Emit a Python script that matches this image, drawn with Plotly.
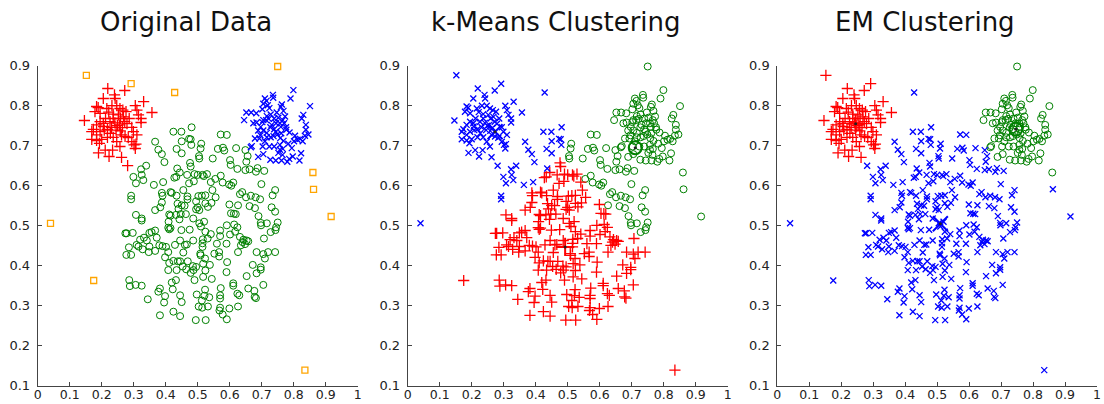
import plotly.graph_objects as go

# ---- data (x, y pairs) ----
# left ear: original red, k-means blue, EM red
ear_left = [
    (0.219, 0.843), (0.240, 0.827), (0.242, 0.818), (0.272, 0.838), (0.331, 0.810),
    (0.205, 0.818), (0.184, 0.798), (0.189, 0.795), (0.179, 0.785), (0.195, 0.781),
    (0.216, 0.793), (0.232, 0.800), (0.247, 0.800), (0.257, 0.793), (0.266, 0.789),
    (0.276, 0.785), (0.305, 0.800), (0.310, 0.789), (0.315, 0.777), (0.323, 0.768),
    (0.323, 0.758), (0.357, 0.783), (0.286, 0.768), (0.272, 0.760), (0.259, 0.768),
    (0.252, 0.777), (0.236, 0.768), (0.226, 0.760), (0.212, 0.768), (0.205, 0.756),
    (0.195, 0.760), (0.184, 0.752), (0.174, 0.741), (0.169, 0.735), (0.184, 0.727),
    (0.195, 0.735), (0.208, 0.739), (0.218, 0.741), (0.231, 0.746), (0.245, 0.739),
    (0.255, 0.752), (0.262, 0.727), (0.273, 0.723), (0.283, 0.720), (0.294, 0.746),
    (0.299, 0.735), (0.310, 0.727), (0.301, 0.702), (0.305, 0.693), (0.307, 0.704),
    (0.294, 0.710), (0.247, 0.710), (0.236, 0.721), (0.218, 0.721), (0.200, 0.716),
    (0.184, 0.713), (0.169, 0.716), (0.193, 0.706), (0.211, 0.689), (0.190, 0.682),
    (0.223, 0.673), (0.234, 0.689), (0.257, 0.698), (0.262, 0.671), (0.146, 0.763),
    (0.241, 0.757), (0.249, 0.750), (0.227, 0.731), (0.265, 0.745), (0.279, 0.755),
    (0.206, 0.748), (0.258, 0.737), (0.236, 0.779), (0.268, 0.772), (0.222, 0.784),
]
# left-ear point that EM puts in the head cluster
ear_left_em_head = [(0.281, 0.650)]

# right ear: original blue, k-means green, EM green
ear_right = [
    (0.710, 0.818), (0.715, 0.812), (0.735, 0.827), (0.736, 0.820), (0.799, 0.839),
    (0.790, 0.818), (0.763, 0.803), (0.760, 0.797), (0.851, 0.799), (0.719, 0.801),
    (0.705, 0.805), (0.652, 0.783), (0.667, 0.783), (0.683, 0.781), (0.702, 0.791),
    (0.716, 0.774), (0.705, 0.764), (0.714, 0.764), (0.722, 0.767), (0.728, 0.778),
    (0.739, 0.768), (0.747, 0.783), (0.768, 0.787), (0.773, 0.773), (0.766, 0.764),
    (0.770, 0.756), (0.757, 0.756), (0.760, 0.747), (0.745, 0.756), (0.776, 0.746),
    (0.777, 0.740), (0.724, 0.794), (0.645, 0.764), (0.674, 0.756), (0.684, 0.758),
    (0.697, 0.747), (0.689, 0.738), (0.705, 0.738), (0.716, 0.732), (0.727, 0.746),
    (0.739, 0.741), (0.749, 0.728), (0.737, 0.724), (0.728, 0.721), (0.716, 0.721),
    (0.710, 0.711), (0.693, 0.718), (0.679, 0.718), (0.669, 0.699), (0.666, 0.696),
    (0.703, 0.698), (0.724, 0.698), (0.739, 0.698), (0.757, 0.702), (0.768, 0.712),
    (0.766, 0.692), (0.757, 0.690), (0.752, 0.682), (0.765, 0.677), (0.744, 0.663),
    (0.762, 0.663), (0.780, 0.660), (0.786, 0.667), (0.797, 0.673), (0.794, 0.694),
    (0.783, 0.705), (0.801, 0.711), (0.812, 0.715), (0.804, 0.725), (0.820, 0.717),
    (0.828, 0.711), (0.835, 0.725), (0.846, 0.728), (0.838, 0.740), (0.838, 0.752),
    (0.830, 0.777), (0.825, 0.768), (0.823, 0.681), (0.818, 0.663), (0.689, 0.672),
    (0.705, 0.679), (0.727, 0.665), (0.696, 0.726), (0.787, 0.733), (0.752, 0.770),
    (0.744, 0.735), (0.758, 0.719), (0.731, 0.752), (0.702, 0.759), (0.761, 0.731),
]

# head points: original green, EM blue; split by k-means cluster
head_km_blue = [
    (0.367, 0.710), (0.377, 0.690), (0.388, 0.679), (0.396, 0.659), (0.424, 0.735),
    (0.449, 0.735), (0.473, 0.717), (0.478, 0.716), (0.481, 0.746), (0.434, 0.692),
    (0.450, 0.711), (0.450, 0.681), (0.480, 0.702), (0.339, 0.650), (0.323, 0.641),
    (0.325, 0.627), (0.299, 0.622), (0.330, 0.614), (0.307, 0.606), (0.363, 0.602),
    (0.392, 0.609), (0.292, 0.575), (0.292, 0.566), (0.436, 0.643),
]
head_km_green = [
    (0.511, 0.705), (0.504, 0.674), (0.505, 0.668), (0.509, 0.693), (0.547, 0.668),
    (0.563, 0.692), (0.579, 0.695), (0.583, 0.688), (0.572, 0.728), (0.591, 0.727),
    (0.620, 0.694), (0.649, 0.689), (0.656, 0.674), (0.652, 0.660), (0.601, 0.664),
    (0.603, 0.652), (0.624, 0.642), (0.649, 0.639), (0.662, 0.641), (0.682, 0.635),
    (0.708, 0.637), (0.687, 0.644), (0.555, 0.617), (0.572, 0.625), (0.578, 0.608),
    (0.598, 0.603), (0.605, 0.600), (0.611, 0.608), (0.699, 0.604), (0.632, 0.579),
    (0.639, 0.584), (0.651, 0.571), (0.666, 0.575), (0.681, 0.571), (0.695, 0.566),
    (0.662, 0.549), (0.679, 0.544), (0.742, 0.589), (0.734, 0.576), (0.626, 0.551),
    (0.690, 0.524), (0.697, 0.507), (0.698, 0.501), (0.716, 0.506), (0.742, 0.535),
    (0.750, 0.508), (0.745, 0.496), (0.743, 0.489), (0.728, 0.484), (0.731, 0.546),
]
head_km_red = [
    (0.478, 0.648), (0.476, 0.657), (0.444, 0.633), (0.427, 0.620), (0.433, 0.622),
    (0.467, 0.627), (0.490, 0.629), (0.500, 0.627), (0.515, 0.627), (0.519, 0.624),
    (0.529, 0.629), (0.473, 0.606), (0.488, 0.611), (0.541, 0.609), (0.546, 0.589),
    (0.388, 0.582), (0.390, 0.575), (0.415, 0.584), (0.419, 0.582), (0.455, 0.589),
    (0.434, 0.575), (0.468, 0.573), (0.468, 0.566), (0.495, 0.561), (0.502, 0.574),
    (0.513, 0.575), (0.524, 0.576), (0.524, 0.556), (0.532, 0.547), (0.543, 0.557),
    (0.556, 0.571), (0.599, 0.553), (0.604, 0.531), (0.613, 0.530), (0.619, 0.529),
    (0.388, 0.558), (0.383, 0.546), (0.367, 0.539), (0.437, 0.555), (0.440, 0.542),
    (0.450, 0.551), (0.459, 0.550), (0.463, 0.529), (0.495, 0.541), (0.505, 0.539),
    (0.500, 0.546), (0.432, 0.527), (0.411, 0.528), (0.409, 0.510), (0.408, 0.495),
    (0.411, 0.491), (0.443, 0.516), (0.449, 0.489), (0.486, 0.518), (0.505, 0.506),
    (0.510, 0.498), (0.520, 0.510), (0.524, 0.485), (0.541, 0.479), (0.531, 0.468),
    (0.515, 0.456), (0.516, 0.466), (0.486, 0.463), (0.460, 0.452), (0.445, 0.463),
    (0.429, 0.452), (0.570, 0.488), (0.591, 0.501), (0.570, 0.474), (0.614, 0.503),
    (0.624, 0.496), (0.617, 0.485), (0.601, 0.478), (0.632, 0.472), (0.640, 0.459),
    (0.643, 0.465), (0.648, 0.454), (0.653, 0.463), (0.658, 0.461), (0.635, 0.451),
    (0.626, 0.434), (0.707, 0.468), (0.684, 0.434), (0.705, 0.429), (0.710, 0.418),
    (0.720, 0.434), (0.742, 0.434), (0.672, 0.402), (0.684, 0.381), (0.697, 0.390),
    (0.697, 0.396), (0.653, 0.374), (0.611, 0.356), (0.611, 0.350), (0.705, 0.352),
    (0.624, 0.330), (0.630, 0.326), (0.658, 0.343), (0.677, 0.337), (0.678, 0.322),
    (0.682, 0.319), (0.626, 0.298), (0.599, 0.293), (0.591, 0.266), (0.578, 0.278),
    (0.568, 0.288), (0.570, 0.295), (0.570, 0.318), (0.570, 0.326), (0.572, 0.344),
    (0.592, 0.409), (0.590, 0.384), (0.567, 0.434), (0.567, 0.423), (0.544, 0.367),
    (0.538, 0.402), (0.523, 0.418), (0.509, 0.426), (0.517, 0.405), (0.524, 0.388),
    (0.517, 0.372), (0.495, 0.397), (0.487, 0.389), (0.485, 0.399), (0.478, 0.382),
    (0.490, 0.364), (0.497, 0.328), (0.513, 0.313), (0.523, 0.340), (0.521, 0.325),
    (0.536, 0.321), (0.503, 0.298), (0.514, 0.295), (0.532, 0.298), (0.494, 0.264),
    (0.525, 0.264), (0.469, 0.411), (0.464, 0.391), (0.453, 0.398), (0.438, 0.411),
    (0.434, 0.389), (0.445, 0.411), (0.424, 0.412), (0.411, 0.407), (0.408, 0.389),
    (0.398, 0.421), (0.408, 0.434), (0.401, 0.447), (0.390, 0.449), (0.380, 0.451),
    (0.367, 0.437), (0.347, 0.434), (0.349, 0.448), (0.341, 0.463), (0.349, 0.482),
    (0.356, 0.484), (0.372, 0.470), (0.332, 0.470), (0.320, 0.465), (0.315, 0.448),
    (0.328, 0.441), (0.309, 0.452), (0.285, 0.446), (0.274, 0.481), (0.278, 0.481),
    (0.297, 0.482), (0.277, 0.427), (0.292, 0.427), (0.286, 0.364), (0.288, 0.349),
    (0.306, 0.352), (0.325, 0.350), (0.344, 0.316), (0.382, 0.343), (0.377, 0.335),
    (0.398, 0.324), (0.395, 0.308), (0.382, 0.276), (0.424, 0.285), (0.445, 0.274),
    (0.445, 0.326), (0.450, 0.309), (0.432, 0.364), (0.419, 0.358), (0.422, 0.341),
    (0.307, 0.527), (0.325, 0.518), (0.325, 0.513), (0.367, 0.488), (0.415, 0.525),
    (0.447, 0.529), (0.415, 0.494), (0.515, 0.447), (0.508, 0.430), (0.455, 0.433),
    (0.466, 0.453), (0.552, 0.430), (0.560, 0.455), (0.475, 0.490), (0.590, 0.455),
]

# noise points (original orange squares), split by their k-means / EM labels
noise_km_blue_em_red = [(0.152, 0.876), (0.292, 0.855)]
noise_km_blue_em_blue = [(0.040, 0.506), (0.428, 0.833)]
noise_km_red_em_blue = [(0.175, 0.363), (0.835, 0.139)]
noise_km_green_em_green = [(0.750, 0.898), (0.860, 0.633)]
noise_km_green_em_blue = [(0.862, 0.591), (0.917, 0.523)]

# cluster centres
kmeans_centres = {"blue": (0.273, 0.735), "red": (0.492, 0.447), "green": (0.711, 0.695)}
em_centres = {"red": (0.245, 0.755), "blue": (0.510, 0.505), "green": (0.746, 0.741)}

x_ticks = [0, 0.1, 0.2, 0.3, 0.4, 0.5, 0.6, 0.7, 0.8, 0.9, 1]
x_tick_text = ["0", "0.1", "0.2", "0.3", "0.4", "0.5", "0.6", "0.7", "0.8", "0.9", "1"]
y_ticks = [0.1, 0.2, 0.3, 0.4, 0.5, 0.6, 0.7, 0.8, 0.9]
y_tick_text = ["0.1", "0.2", "0.3", "0.4", "0.5", "0.6", "0.7", "0.8", "0.9"]
titles = ["Original Data", "k-Means Clustering", "EM Clustering"]

# ---- styling ----
RED, BLUE, GREEN, ORANGE = "#ff0000", "#0000ff", "#008000", "#ffa500"
STYLE = {
    "red": dict(symbol="cross-thin-open", size=8, color=RED, line=dict(color=RED, width=1.3)),
    "blue": dict(symbol="x-thin-open", size=6, color=BLUE, line=dict(color=BLUE, width=1.3)),
    "green": dict(symbol="circle-open", size=7, color=GREEN, line=dict(color=GREEN, width=1)),
    "orange": dict(symbol="square-open", size=6, color=ORANGE, line=dict(color=ORANGE, width=1.3)),
}
CENTRE_SIZE = {"red": 13, "blue": 15, "green": 13}

groups = [
    # (points, original, kmeans, em)
    (ear_left, "red", "blue", "red"),
    (ear_left_em_head, "red", "blue", "blue"),
    (ear_right, "blue", "green", "green"),
    (head_km_blue, "green", "blue", "blue"),
    (head_km_green, "green", "green", "blue"),
    (head_km_red, "green", "red", "blue"),
    (noise_km_blue_em_red, "orange", "blue", "red"),
    (noise_km_blue_em_blue, "orange", "blue", "blue"),
    (noise_km_red_em_blue, "orange", "red", "blue"),
    (noise_km_green_em_green, "orange", "green", "green"),
    (noise_km_green_em_blue, "orange", "green", "blue"),
]

fig = go.Figure()
axis_names = [("x", "y"), ("x2", "y2"), ("x3", "y3")]

for panel in range(3):
    xa, ya = axis_names[panel]
    by_colour = {}
    for pts, *labs in groups:
        c = labs[panel]
        by_colour.setdefault(c, []).extend(pts)
    for c in ["green", "red", "blue", "orange"]:
        if c not in by_colour:
            continue
        pts = by_colour[c]
        fig.add_trace(go.Scatter(
            x=[p[0] for p in pts], y=[p[1] for p in pts], mode="markers",
            marker=STYLE[c], xaxis=xa, yaxis=ya, showlegend=False,
            cliponaxis=False, hoverinfo="x+y"))


def add_centres(centres, xa, ya):
    for c, (cx, cy) in centres.items():
        st = dict(STYLE[c])
        st["size"] = CENTRE_SIZE[c]
        st["line"] = dict(color=st["color"], width=2)
        fig.add_trace(go.Scatter(x=[cx], y=[cy], mode="markers", marker=st,
                                 xaxis=xa, yaxis=ya, showlegend=False))
        fig.add_trace(go.Scatter(x=[cx], y=[cy], mode="markers",
                                 marker=dict(symbol="circle", size=3, color="#222"),
                                 xaxis=xa, yaxis=ya, showlegend=False))


add_centres(kmeans_centres, "x2", "y2")
add_centres(em_centres, "x3", "y3")

W, H = 1104, 404
x_doms = [(37.7, 357.7), (407.7, 727.7), (777.3, 1097.0)]
y_dom = ((H - 385.7) / H, (H - 65.7) / H)

common = dict(showgrid=False, zeroline=False, showline=True, linecolor="#444",
              linewidth=1, ticks="inside", ticklen=4, tickcolor="#444", mirror=False,
              automargin=False,
              tickfont=dict(family="DejaVu Sans", size=13, color="#222"))

layout = dict(width=W, height=H, margin=dict(l=0, r=0, t=0, b=0, pad=0, autoexpand=False),
              paper_bgcolor="white", plot_bgcolor="white", annotations=[])
for i, (a, b) in enumerate(x_doms):
    suffix = "" if i == 0 else str(i + 1)
    layout["xaxis" + suffix] = dict(common, domain=[a / W, b / W], range=[0, 1],
                                    tickvals=x_ticks, ticktext=x_tick_text,
                                    anchor="y" + suffix, ticklabelstandoff=-3,
                                    tickfont=dict(family="DejaVu Sans", size=12.5, color="#222"))
    layout["yaxis" + suffix] = dict(common, domain=list(y_dom), range=[0.1, 0.9],
                                    tickvals=y_ticks, ticktext=y_tick_text,
                                    anchor="x" + suffix, ticklabelstandoff=4)
    layout["annotations"].append(dict(
        text=titles[i], x=((a + b) / 2 - 12) / W, y=(H - 22) / H, xref="paper", yref="paper",
        xanchor="center", yanchor="middle", showarrow=False,
        font=dict(family="DejaVu Sans", size=26, color="#111")))

fig.update_layout(**layout)
fig.write_html("out.html")
